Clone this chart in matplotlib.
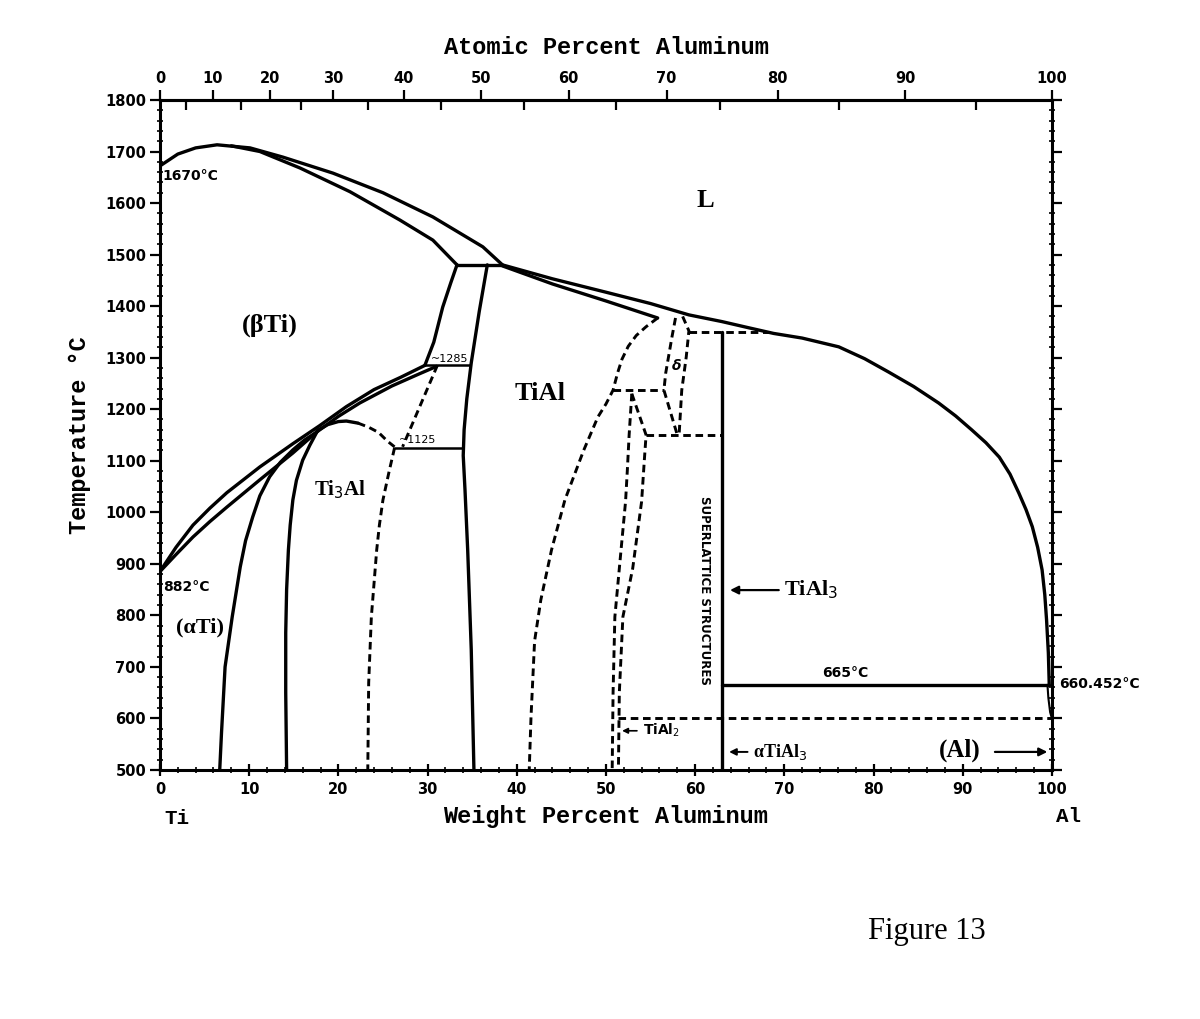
import numpy as np
import matplotlib
matplotlib.use("Agg")
import matplotlib.pyplot as plt
from matplotlib.ticker import MultipleLocator

# ---- data: Ti-Al phase diagram (wt% Al, deg C) ----
liq_ti_w = [0, 2, 4, 6.4, 10.1, 13.8, 19.4, 25.0, 30.6, 36.2, 38.4]
liq_ti_t = [1672, 1695, 1707, 1713, 1707, 1689, 1658, 1620, 1573, 1515, 1480]

sol_beta_w = [8, 11.2, 15.7, 21.3, 26.9, 30.6, 33.3]
sol_beta_t = [1711, 1700, 1668, 1622, 1567, 1528, 1480]

perit_w = [33.3, 38.4]
perit_t = [1480, 1480]

liq_al_w = [38.4, 44, 50, 55, 59.3, 63, 66, 68.8, 72, 76.1, 79, 81.7, 84.5, 87.3, 89.2,
            91.0, 92.6, 94.1, 95.3, 96.3, 97.1, 97.8, 98.4, 98.9, 99.2, 99.4, 99.6, 99.7]
liq_al_t = [1480, 1453, 1427, 1405, 1383, 1370, 1358, 1347, 1338, 1321, 1298, 1272,
            1244, 1212, 1187, 1160, 1135, 1107, 1074, 1037, 1005, 972, 932, 888, 840,
            791, 727, 665]

sol_tial_w = [38.4, 44, 50, 55.8]
sol_tial_t = [1478, 1443, 1410, 1377]

beta_tr_w = [0, 1.8, 3.7, 5.6, 7.5, 11.2, 14.9, 17.9, 20.9, 24, 27, 29.7]
beta_tr_t = [885, 932, 975, 1008, 1038, 1088, 1133, 1168, 1205, 1238, 1262, 1285]

alpha_tr_w = [0, 1.8, 3.7, 5.6, 7.5, 11.2, 14.9, 17.6, 20, 22.4, 26, 29, 31]
alpha_tr_t = [885, 918, 952, 982, 1010, 1063, 1115, 1156, 1186, 1212, 1245, 1268, 1283]

alpha_up_w = [29.7, 30.7, 31.7, 32.6, 33.3]
alpha_up_t = [1285, 1330, 1398, 1445, 1480]

tial_l_w = [36.7, 35.8, 34.9, 34.4, 34.1, 34.0, 34.2, 34.5, 34.9, 35.2]
tial_l_t = [1480, 1390, 1290, 1220, 1160, 1110, 1043, 927, 733, 500]

alpha_solv_w = [17.6, 16.2, 14.9, 13.5, 12.3, 11.2, 10.4, 9.6, 9.0, 8.1, 7.3, 6.9, 6.7]
alpha_solv_t = [1156, 1140, 1121, 1097, 1069, 1032, 991, 945, 894, 797, 700, 572, 500]

ti3al_l_w = [17.6, 16.8, 16.0, 15.3, 14.9, 14.6, 14.4, 14.2, 14.1, 14.1, 14.2]
ti3al_l_t = [1156, 1130, 1101, 1062, 1024, 975, 927, 850, 766, 650, 500]

dome_w = [17.6, 18.8, 20.0, 20.9, 22.2]
dome_t = [1158, 1170, 1176, 1177, 1173]
dome_d_w = [22.2, 23.4, 24.5, 25.5, 26.3]
dome_d_t = [1173, 1165, 1155, 1138, 1127]

ti3al_r_w = [26.3, 25.7, 25.0, 24.6, 24.3, 23.7, 23.4, 23.3]
ti3al_r_t = [1125, 1080, 1024, 975, 927, 797, 669, 500]

a_d_w = [31.1, 27.2]
a_d_t = [1285, 1127]

iso1285_w = [29.7, 34.8]
iso1125_w = [26.3, 34.0]

tial_r_w = [55.8, 54.5, 53.4, 52.5, 51.8, 51.3, 50.8, 50.0, 49.1, 47.5, 45.4, 43.9,
            42.7, 42.0, 41.6, 41.4]
tial_r_t = [1377, 1360, 1343, 1322, 1297, 1270, 1237, 1210, 1185, 1120, 1024, 927,
            830, 750, 603, 500]

iso1237_w = [50.8, 56.5]
delta_l_w = [57.8, 57.4, 57.0, 56.7, 56.5, 58.0]
delta_l_t = [1377, 1340, 1300, 1270, 1237, 1150]
delta_r_w = [58.6, 59.3, 59.0, 58.5, 58.2]
delta_r_t = [1380, 1352, 1301, 1237, 1150]
iso1350_w = [59.3, 68.8]
iso1150_w = [54.5, 63.0]

tial2_l_w = [52.9, 52.6, 52.4, 52.2, 51.5, 51.0, 50.8, 50.7]
tial2_l_t = [1230, 1150, 1082, 1021, 891, 797, 650, 500]
tial2_r_w = [52.9, 53.8, 54.5, 54.3, 54.0, 53.0, 51.9, 51.5, 51.4]
tial2_r_t = [1230, 1185, 1150, 1100, 1021, 891, 797, 650, 500]

tial3_w = [63.0, 63.0]
tial3_t = [1350, 500]
iso665_w = [63.0, 99.7]
iso600_w = [51.4, 99.9]
al_solv_w = [99.5, 99.6, 99.8, 100]
al_solv_t = [665, 640, 612, 600]

at_ticks = list(range(0, 101, 10))
at_minor = list(range(5, 100, 10))


def wt2at(w):
    w = np.asarray(w, dtype=float)
    a = w / 26.98
    b = (100 - w) / 47.87
    return 100 * a / (a + b)


def at2wt(x):
    x = np.asarray(x, dtype=float)
    a = x * 26.98
    b = (100 - x) * 47.87
    return 100 * a / (a + b)


fig = plt.figure(figsize=(12, 10.19), dpi=100)
ax = fig.add_axes([0.1333, 0.2444, 0.7433, 0.6575])
ax.set_xlim(0, 100)
ax.set_ylim(500, 1800)

lw = 2.4
dl = dict(color="black", lw=2.1, dashes=(2.6, 1.6))
sl = dict(color="black", lw=lw, solid_capstyle="round", solid_joinstyle="round")

# solid lines
ax.plot(liq_ti_w, liq_ti_t, **sl)
ax.plot(sol_beta_w, sol_beta_t, **sl)
ax.plot(perit_w, perit_t, **sl)
ax.plot(liq_al_w, liq_al_t, **sl)
ax.plot(sol_tial_w, sol_tial_t, **sl)
ax.plot(beta_tr_w, beta_tr_t, **sl)
ax.plot(alpha_tr_w, alpha_tr_t, **sl)
ax.plot(alpha_up_w, alpha_up_t, **sl)
ax.plot(tial_l_w, tial_l_t, **sl)
ax.plot(alpha_solv_w, alpha_solv_t, **sl)
ax.plot(ti3al_l_w, ti3al_l_t, **sl)
ax.plot(dome_w, dome_t, **sl)
ax.plot(iso1285_w, [1285, 1285], color="black", lw=1.8)
ax.plot(iso1125_w, [1125, 1125], color="black", lw=1.8)
ax.plot(tial3_w, tial3_t, **sl)
ax.plot(iso665_w, [665, 665], **sl)
ax.plot(al_solv_w, al_solv_t, color="black", lw=1.5)

# dashed lines
ax.plot(dome_d_w, dome_d_t, **dl)
ax.plot(ti3al_r_w, ti3al_r_t, **dl)
ax.plot(a_d_w, a_d_t, **dl)
ax.plot(tial_r_w, tial_r_t, **dl)
ax.plot(iso1237_w, [1237, 1237], **dl)
ax.plot(delta_l_w, delta_l_t, **dl)
ax.plot(delta_r_w, delta_r_t, **dl)
ax.plot(iso1350_w, [1350, 1350], **dl)
ax.plot(iso1150_w, [1150, 1150], **dl)
ax.plot(tial2_l_w, tial2_l_t, **dl)
ax.plot(tial2_r_w, tial2_r_t, **dl)
ax.plot(iso600_w, [600, 600], **dl)

# axes and ticks
for s in ax.spines.values():
    s.set_linewidth(2.2)
ax.xaxis.set_major_locator(MultipleLocator(10))
ax.xaxis.set_minor_locator(MultipleLocator(2))
ax.yaxis.set_major_locator(MultipleLocator(100))
ax.yaxis.set_minor_locator(MultipleLocator(20))
ax.tick_params(axis="both", which="major", width=1.6, labelsize=10.5)
ax.tick_params(axis="x", which="major", direction="inout", length=9, pad=4,
               top=False)
ax.tick_params(axis="x", which="minor", direction="inout", length=4, width=1.2,
               top=False)
ax.tick_params(axis="y", which="major", direction="out", length=7, pad=3,
               right=True)
ax.tick_params(axis="y", which="minor", direction="inout", length=4, width=1.2,
               right=True)
for lab in ax.get_xticklabels() + ax.get_yticklabels():
    lab.set_fontweight("bold")

sec = ax.secondary_xaxis("top", functions=(wt2at, at2wt))
sec.set_xticks(at_ticks)
sec.set_xticks(at_minor, minor=True)
sec.tick_params(which="major", direction="out", length=7, width=1.6,
                labelsize=10.5, pad=3)
sec.tick_params(which="minor", direction="in", length=7, width=1.6)
for lab in sec.get_xticklabels():
    lab.set_fontweight("bold")
sec.spines["top"].set_linewidth(2.2)

mono = dict(family="Liberation Mono", weight="bold", fontsize=17)
sec.set_xlabel("Atomic Percent Aluminum", labelpad=12, **mono)
ax.set_xlabel("Weight Percent Aluminum", labelpad=6, **mono)
ax.set_ylabel("Temperature \u00b0C", labelpad=10, **mono)

# region labels
serif = dict(family="Liberation Serif", weight="bold", ha="center", va="center")
ax.text(61.2, 1604, "L", fontsize=19, **serif)
ax.text(12.3, 1363, "(\u03b2Ti)", fontsize=19, **serif)
ax.text(42.6, 1231, "TiAl", fontsize=19, **serif)
ax.text(20.2, 1043, "Ti$_3$Al", fontsize=15, **serif)
ax.text(4.5, 777, "(\u03b1Ti)", fontsize=16, **serif)
ax.text(89.7, 539, "(Al)", fontsize=18, **serif)

small = dict(family="DejaVu Sans", weight="bold", fontsize=10)
ax.text(0.3, 1653, "1670\u00b0C", ha="left", va="center", **small)
ax.text(0.3, 855, "882\u00b0C", ha="left", va="center", **small)
ax.text(76.8, 688, "665\u00b0C", ha="center", va="center", **small)
ax.text(100.8, 667, "660.452\u00b0C", ha="left", va="center", clip_on=False, **small)
ax.text(32.5, 1297, "~1285", ha="center", va="center", family="DejaVu Sans", fontsize=8)
ax.text(28.9, 1140, "~1125", ha="center", va="center", family="DejaVu Sans", fontsize=8)
ax.text(57.9, 1283, "\u03b4", ha="center", va="center", fontsize=10, style="italic",
        weight="bold")
ax.text(61.1, 849, "SUPERLATTICE STRUCTURES", rotation=-90, ha="center", va="center",
        family="DejaVu Sans", weight="bold", fontsize=8.5)

arr = dict(arrowstyle="-|>", color="black", lw=1.6, mutation_scale=12)
ax.annotate("TiAl$_3$", xy=(63.6, 849), xytext=(70.0, 849), va="center", ha="left",
            fontsize=16, family="Liberation Serif", weight="bold", arrowprops=arr)
ax.annotate("TiAl$_2$", xy=(51.5, 576), xytext=(54.1, 576), va="center", ha="left",
            fontsize=10, family="DejaVu Sans", weight="bold",
            arrowprops=dict(arrowstyle="-|>", color="black", lw=1.2, mutation_scale=8))
ax.annotate("\u03b1TiAl$_3$", xy=(63.5, 535), xytext=(66.5, 535), va="center", ha="left",
            fontsize=13, family="Liberation Serif", weight="bold",
            arrowprops=dict(arrowstyle="-|>", color="black", lw=1.4, mutation_scale=10))
ax.annotate("", xy=(99.8, 535), xytext=(93.3, 535), arrowprops=arr)

ax.text(0.5, 405, "Ti", ha="left", va="center", clip_on=False,
        family="Liberation Mono", weight="bold", fontsize=15)
ax.text(100.5, 410, "Al", ha="left", va="center", clip_on=False,
        family="Liberation Mono", weight="bold", fontsize=15)

fig.text(0.772, 0.0854, "Figure 13", ha="center", va="center",
         family="Liberation Serif", fontsize=22)

fig.savefig("out.png", dpi=100, facecolor="white")
